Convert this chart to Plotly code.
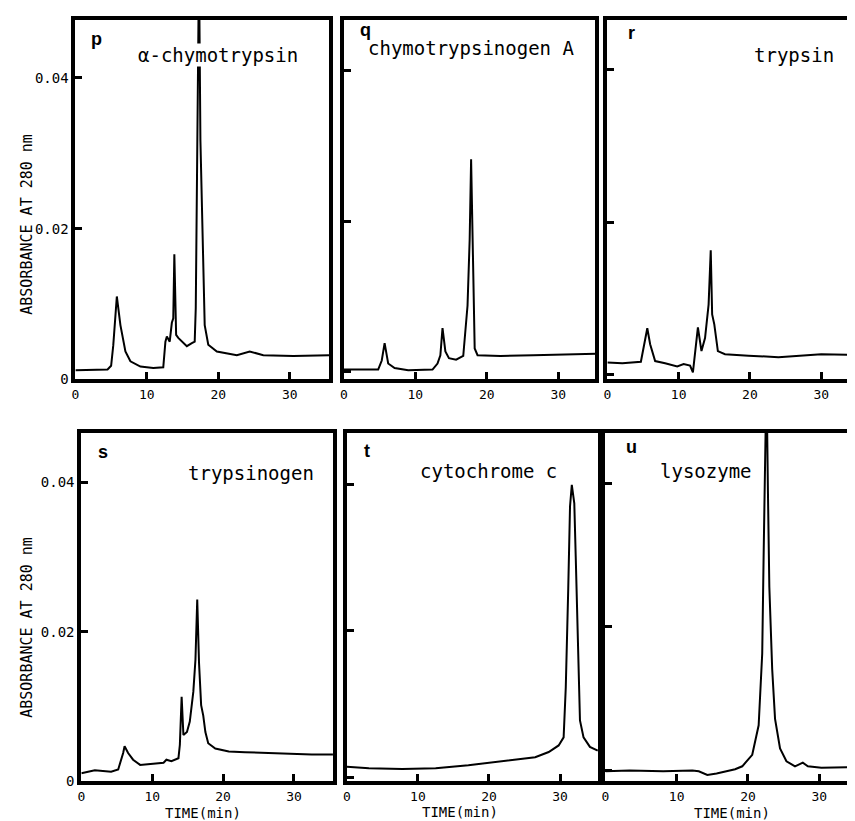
import plotly.graph_objects as go

# ---- data (time in min, absorbance at 280 nm) ----
t_p = [0, 2, 4.5, 5.0, 5.3, 5.8, 6.3, 7.0, 7.7, 9.1, 10.9, 12.3, 12.6, 12.8, 13.2, 13.5, 13.7, 13.85, 14.1, 14.4,
       14.9, 15.6, 16.3, 16.7, 16.85, 17.1, 17.3, 17.5, 17.8, 18.1, 18.6, 19.8, 22.6, 24.4, 26.3, 30.5, 35.5]
a_p = [0.0012, 0.0012, 0.0013, 0.0018, 0.0045, 0.0110, 0.0072, 0.0037, 0.0024, 0.0017, 0.0015, 0.0016, 0.0050,
       0.0057, 0.0050, 0.0075, 0.0081, 0.0166, 0.0059, 0.0055, 0.0050, 0.0044, 0.0048, 0.0050, 0.0095, 0.0317,
       0.0550, 0.0317, 0.0180, 0.0072, 0.0046, 0.0037, 0.0032, 0.0037, 0.0032, 0.0031, 0.0032]

t_q = [0, 4.8, 5.3, 5.7, 6.2, 7.1, 9.0, 12.4, 13.1, 13.5, 13.8, 14.2, 14.7, 15.7, 16.7, 17.3, 17.6, 17.8, 18.1,
       18.3, 18.7, 21.9, 26.5, 31.1, 35.3]
a_q = [0.0003, 0.0003, 0.0015, 0.0038, 0.0011, 0.0005, 0.0002, 0.0003, 0.0011, 0.0022, 0.0058, 0.0027, 0.0018,
       0.0016, 0.0021, 0.0088, 0.0176, 0.0282, 0.0132, 0.0031, 0.0022, 0.0021, 0.0022, 0.0023, 0.0024]

t_r = [0, 2.1, 4.7, 5.1, 5.6, 6.0, 6.7, 8.1, 9.8, 10.7, 11.6, 12.0, 12.2, 12.7, 13.2, 13.7, 14.2, 14.5, 14.7,
       15.0, 15.5, 16.5, 19.8, 24.0, 30.0, 35.3]
a_r = [0.0016, 0.0015, 0.0017, 0.0035, 0.0061, 0.0040, 0.0018, 0.0015, 0.0011, 0.0014, 0.0012, 0.0003, 0.0022,
       0.0062, 0.0031, 0.0048, 0.0092, 0.0163, 0.0079, 0.0066, 0.0031, 0.0027, 0.0025, 0.0023, 0.0027, 0.0026]

t_s = [0, 1.9, 4.2, 5.2, 5.9, 6.1, 6.6, 7.3, 8.3, 9.9, 11.6, 12.0, 12.7, 13.7, 13.9, 14.15, 14.4, 14.9, 15.3,
       15.8, 16.1, 16.35, 16.6, 16.9, 17.2, 17.5, 17.9, 18.9, 20.8, 23.1, 27.8, 32.5, 35.5]
a_s = [0.0011, 0.0015, 0.0013, 0.0016, 0.0038, 0.0047, 0.0038, 0.0029, 0.0022, 0.0023, 0.0025, 0.0029, 0.0027,
       0.0031, 0.0049, 0.0113, 0.0062, 0.0066, 0.0080, 0.0120, 0.0163, 0.0243, 0.0159, 0.0102, 0.0088, 0.0066,
       0.0051, 0.0044, 0.0040, 0.0039, 0.0037, 0.0036, 0.0036]

t_t = [0, 3.1, 7.8, 12.5, 17.1, 21.8, 26.5, 28.4, 29.8, 30.5, 30.8, 31.15, 31.4, 31.65, 31.85, 32.0, 32.2, 32.5,
       32.8, 33.3, 34.2, 35.3]
a_t = [0.0015, 0.0013, 0.0012, 0.0013, 0.0017, 0.0022, 0.0028, 0.0035, 0.0044, 0.0055, 0.0123, 0.0258, 0.0370,
       0.0399, 0.0380, 0.0374, 0.0302, 0.0168, 0.0078, 0.0055, 0.0042, 0.0037]

t_u = [0, 3.4, 8.1, 12.2, 13.1, 14.3, 15.6, 16.8, 18.2, 19.2, 20.6, 21.5, 22.0, 22.2, 22.4, 22.6, 22.8, 23.0,
       23.4, 23.8, 24.5, 25.4, 26.6, 27.7, 28.4, 30.3, 35.3]
a_u = [-0.0001, 0.0000, -0.0001, 0.0000, -0.0001, -0.0006, -0.0004, -0.0001, 0.0002, 0.0006, 0.0022, 0.0063,
       0.0163, 0.0300, 0.0435, 0.0550, 0.0390, 0.0255, 0.0141, 0.0072, 0.0031, 0.0013, 0.0006, 0.0011, 0.0006,
       0.0004, 0.0005]

panel_letters = ["p", "q", "r", "s", "t", "u"]
panel_names = ["α-chymotrypsin", "chymotrypsinogen A", "trypsin", "trypsinogen", "cytochrome c", "lysozyme"]
x_tick_vals = [0, 10, 20, 30]
x_tick_text = ["0", "10", "20", "30"]
y_tick_vals = [0, 0.02, 0.04]
y_tick_text = ["0", "0.02", "0.04"]
y_title = "ABSORBANCE AT 280 nm"
x_title = "TIME(min)"

W, H = 855, 821
series = [(t_p, a_p), (t_q, a_q), (t_r, a_r), (t_s, a_s), (t_t, a_t), (t_u, a_u)]

# panel frames in pixels: (left, right, top, bottom)
frames = [(64, 320, 12, 375), (335, 589, 12, 375), (601, 855, 12, 375),
          (70, 324, 429, 781), (338, 592, 429, 781), (599, 853, 429, 781)]
xranges = [[0, 35.5], [0, 35.2], [0, 35.3], [0, 35.5], [0, 35.4], [0, 35.3]]
yranges = [[0, 0.0477], [-0.001, 0.0467], [-0.0006, 0.0465],
           [0, 0.0466], [-0.0005, 0.0470], [-0.0015, 0.0470]]

MONO = "DejaVu Sans Mono"
fig = go.Figure()
layout = dict(width=W, height=H, margin=dict(l=0, r=0, t=0, b=0), showlegend=False,
              plot_bgcolor="white", paper_bgcolor="white", hovermode=False)

for i, ((tx, ay), (l, r, t, b)) in enumerate(zip(series, frames)):
    n = "" if i == 0 else str(i + 1)
    fig.add_trace(go.Scatter(x=tx, y=ay, mode="lines", line=dict(color="black", width=2),
                             xaxis="x" + n, yaxis="y" + n))
    layout["xaxis" + n] = dict(domain=[l / W, min(r / W, 1.0)], range=xranges[i], anchor="y" + n,
                               tickvals=x_tick_vals, ticktext=x_tick_text, ticks="inside", ticklen=7,
                               tickwidth=3, tickcolor="black", showline=True, linewidth=4, linecolor="black",
                               mirror=True, showgrid=False, zeroline=False,
                               tickfont=dict(family=MONO, size=13, color="black"))
    layout["yaxis" + n] = dict(domain=[1 - b / H, 1 - t / H], range=yranges[i], anchor="x" + n,
                               tickvals=y_tick_vals, ticktext=y_tick_text, ticks="inside", ticklen=7,
                               tickwidth=3, tickcolor="black", showline=True, linewidth=4, linecolor="black",
                               mirror=True, showgrid=False, zeroline=False,
                               showticklabels=(i % 3 == 0),
                               tickfont=dict(family=MONO, size=14, color="black"))

fig.update_layout(**layout)


def note(x, y, text, size, family=MONO, **kw):
    return dict(x=x / W, y=1 - y / H, xref="paper", yref="paper", text=text, showarrow=False,
                xanchor="center", yanchor="middle",
                font=dict(family=family, size=size, color="black"), **kw)


ann = []
letter_pos = [(85, 31), (357, 22), (625, 25), (92, 448), (358, 447), (625, 443)]
name_pos = [(208, 47), (463, 40), (789, 47), (241, 470), (481, 468), (701, 468)]
for i, ((lx, ly), (nx, ny), let, name) in enumerate(zip(letter_pos, name_pos, panel_letters, panel_names)):
    ann.append(note(lx, ly, "<b>" + let + "</b>", 18, family="Liberation Sans"))
    extra = dict(bgcolor="white", borderpad=0) if i == 0 else {}
    ann.append(note(nx, ny, name, 19, **extra))

for (yx, yy) in [(15, 218), (15, 625)]:
    ann.append(note(yx, yy, y_title, 15, textangle=-90))
for (tx, ty) in [(193, 813), (452, 812), (727, 813)]:
    ann.append(note(tx, ty, x_title, 14))

fig.update_layout(annotations=ann)
fig.write_html("out.html")
